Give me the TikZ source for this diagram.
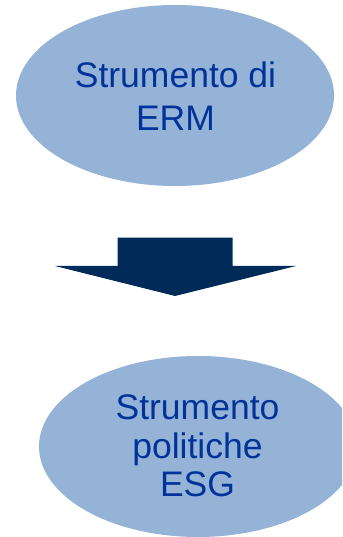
\documentclass[tikz,border=0pt]{standalone}
\usepackage{fontspec}
\setmainfont{Liberation Sans}
\usetikzlibrary{shapes.geometric}
\definecolor{ellfill}{HTML}{95B3D7}
\definecolor{txtblue}{HTML}{003399}
\definecolor{arrowblue}{HTML}{002A58}
\tikzset{
  oval/.style={ellipse, fill=ellfill, draw=none, minimum width=318pt, minimum height=181pt, inner sep=0pt},
  bigtext/.style={font=\fontsize{35.5}{42}\selectfont, text=txtblue, anchor=base, inner sep=0pt}
}
\begin{document}
\begin{tikzpicture}[x=1pt,y=1pt]
\useasboundingbox (0,0) rectangle (342,537);
\clip (0,0) rectangle (342,537);
% top ellipse
\node[oval] (erm) at (175,441.5) {};
\node[bigtext] (erm1) at (175.5,449) {Strumento di};
\node[bigtext] (erm2) at (175.5,406.3) {ERM};
% block arrow
\fill[arrowblue] (117.7,299.3) -- (232.7,299.3) -- (232.7,271) -- (296,271)
  -- (175,241) -- (55,271) -- (117.7,271) -- cycle;
% bottom ellipse
\node[oval] (esg) at (198,90.5) {};
\node[bigtext] (esg1) at (197.5,117) {Strumento};
\node[bigtext] (esg2) at (197.5,78) {politiche};
\node[bigtext] (esg3) at (197.5,40) {ESG};
\end{tikzpicture}
\end{document}
